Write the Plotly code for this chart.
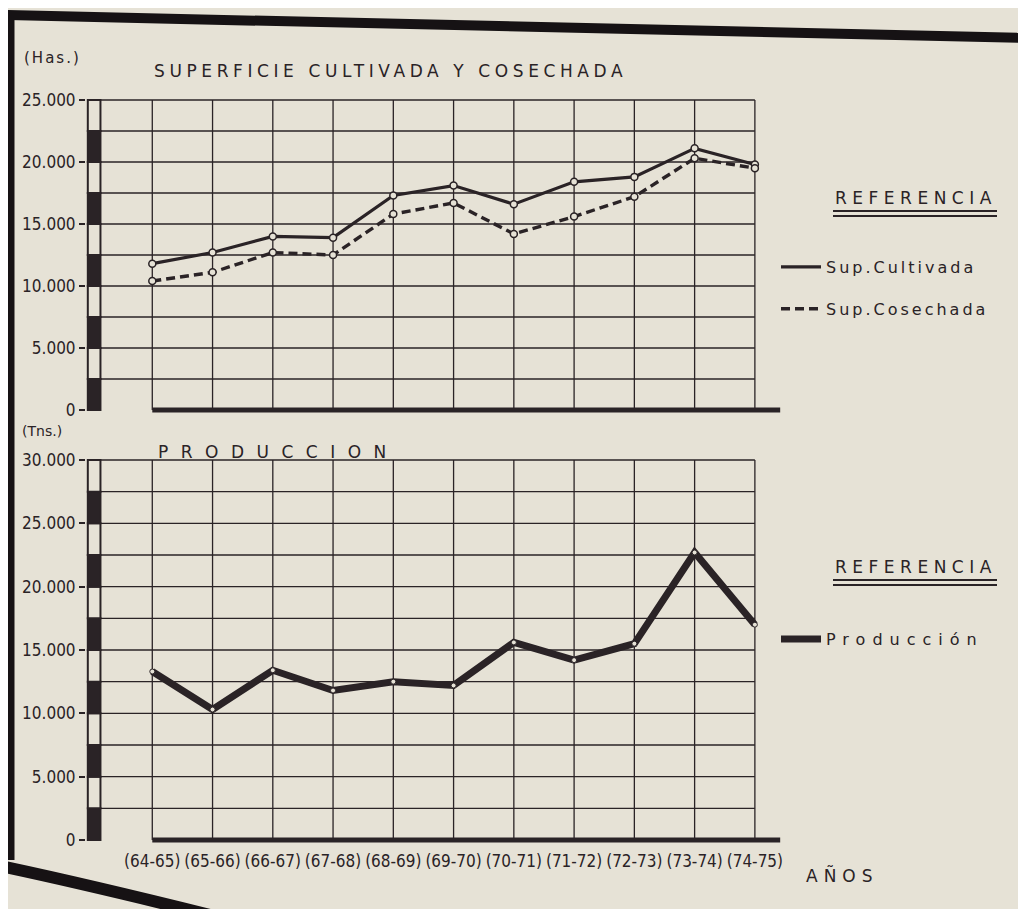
"""
Superficie cultivada / cosechada y produccion, campañas 64-65 a 74-75
"""

import plotly.graph_objects as go
from plotly.subplots import make_subplots

periodos = ['(64-65)', '(65-66)', '(66-67)', '(67-68)', '(68-69)', '(69-70)',
            '(70-71)', '(71-72)', '(72-73)', '(73-74)', '(74-75)']
sup_cultivada = [11800, 12700, 14000, 13900, 17300, 18100, 16600, 18400, 18800, 21100, 19800]
sup_cosechada = [10400, 11100, 12700, 12500, 15800, 16700, 14200, 15600, 17200, 20300, 19500]
produccion = [13300, 10300, 13400, 11800, 12500, 12200, 15600, 14200, 15500, 22700, 17000]

ticks_sup = [0, 5000, 10000, 15000, 20000, 25000]
ticks_prod = [0, 5000, 10000, 15000, 20000, 25000, 30000]
paso_grilla = 2500

INK = '#2a2326'
PAPER = '#e6e2d6'
OFF = 8  # default body margin of the html page
W, H = 1026 - 2 * OFF, 917 - 2 * OFF
L, PW = 86 - OFF, 696
NARROW = 'Liberation Sans Narrow, DejaVu Sans Condensed, Arial Narrow, sans-serif'
SANS = 'DejaVu Sans, Verdana, sans-serif'

x = list(range(len(periodos)))
x_rango = [-1.1, 10.45]
bar_x = [-1.07, -0.86]


def fx(p):
    return (p - OFF - L) / PW


def fy(p):
    return 1 - (p - OFF) / H


fig = make_subplots(rows=2, cols=1)

# top panel: superficie
fig.add_trace(go.Scatter(x=x, y=sup_cultivada, mode='lines', name='<span style="letter-spacing:3px">Sup.Cultivada</span>',
    line=dict(color=INK, width=3.2), legend='legend', legendgroup='a'), row=1, col=1)
fig.add_trace(go.Scatter(x=x, y=sup_cosechada, mode='lines', name='<span style="letter-spacing:3px">Sup.Cosechada</span>',
    line=dict(color=INK, width=3.4, dash='9px,5px'), legend='legend', legendgroup='b'), row=1, col=1)
for serie in (sup_cultivada, sup_cosechada):
    fig.add_trace(go.Scatter(x=x, y=serie, mode='markers', showlegend=False,
        marker=dict(symbol='circle', size=7, color=PAPER, line=dict(color=INK, width=1.5))), row=1, col=1)

# bottom panel: produccion
fig.add_trace(go.Scatter(x=x, y=produccion, mode='lines', name='<span style="letter-spacing:7px">Producción</span>',
    line=dict(color=INK, width=7), legend='legend2'), row=2, col=1)
fig.add_trace(go.Scatter(x=x, y=produccion, mode='markers', showlegend=False,
    marker=dict(symbol='circle', size=5, color=PAPER, line=dict(color=INK, width=1))), row=2, col=1)


def decorar(ticks, xref, yref):
    """grid, striped scale bar and thick baseline for one panel"""
    tope = ticks[-1]
    shapes = []
    for v in range(paso_grilla, tope + 1, paso_grilla):
        shapes.append(dict(type='line', xref=xref, yref=yref, x0=bar_x[1], x1=x[-1], y0=v, y1=v,
                           line=dict(color=INK, width=1.3), layer='below'))
    for xi in x:
        shapes.append(dict(type='line', xref=xref, yref=yref, x0=xi, x1=xi, y0=0, y1=tope,
                           line=dict(color=INK, width=1.3), layer='below'))
    for v in range(0, tope, paso_grilla):
        negro = (v // paso_grilla) % 2 == 0
        shapes.append(dict(type='rect', xref=xref, yref=yref, x0=bar_x[0], x1=bar_x[1], y0=v, y1=v + paso_grilla,
                           fillcolor=INK if negro else PAPER, line=dict(color=INK, width=2)))
    shapes.append(dict(type='line', xref=xref, yref=yref, x0=x[0], x1=x[-1] + 0.42, y0=0, y1=0,
                       line=dict(color=INK, width=5)))
    return shapes


shapes = decorar(ticks_sup, 'x', 'y') + decorar(ticks_prod, 'x2', 'y2')

# page frame seen in the photo
FRAME = '#161214'
shapes.append(dict(type='line', xref='paper', yref='paper', x0=fx(4), x1=fx(1030), y0=fy(15), y1=fy(38),
                   line=dict(color=FRAME, width=10)))
shapes.append(dict(type='line', xref='paper', yref='paper', x0=fx(10), x1=fx(10), y0=fy(12), y1=fy(860),
                   line=dict(color=FRAME, width=9)))
shapes.append(dict(type='path', xref='paper', yref='paper',
                   path=f'M {fx(0)},{fy(866)} Q {fx(90)},{fy(885)} {fx(230)},{fy(920)}',
                   line=dict(color=FRAME, width=12)))

# double underline under REFERENCIA
for y_ref in (211, 216, 580, 585):
    shapes.append(dict(type='line', xref='paper', yref='paper', x0=fx(833), x1=fx(997),
                       y0=fy(y_ref), y1=fy(y_ref), line=dict(color=INK, width=2.2)))


def px(xp, yp):
    return dict(x=fx(xp), y=fy(yp), xref='paper', yref='paper')


annotations = [
    dict(**px(22, 58), text='<span style="letter-spacing:2px">(Has.)</span>', showarrow=False,
         xanchor='left', yanchor='middle', font=dict(family=SANS, size=15, color=INK)),
    dict(**px(152, 71), text='<span style="letter-spacing:4.6px">SUPERFICIE CULTIVADA Y COSECHADA</span>',
         showarrow=False, xanchor='left', yanchor='middle', font=dict(family=SANS, size=17, color=INK)),
    dict(**px(20, 431), text='(Tns.)', showarrow=False,
         xanchor='left', yanchor='middle', font=dict(family=SANS, size=14, color=INK)),
    dict(**px(156, 452), text='<span style="letter-spacing:12.5px">PRODUCCION</span>',
         showarrow=False, xanchor='left', yanchor='middle', font=dict(family=SANS, size=17, color=INK)),
    dict(**px(833, 198), text='<span style="letter-spacing:5.5px">REFERENCIA</span>',
         showarrow=False, xanchor='left', yanchor='middle', font=dict(family=SANS, size=17, color=INK)),
    dict(**px(833, 567), text='<span style="letter-spacing:5.5px">REFERENCIA</span>',
         showarrow=False, xanchor='left', yanchor='middle', font=dict(family=SANS, size=17, color=INK)),
    dict(**px(804, 875), text='<span style="letter-spacing:6px">AÑOS</span>',
         showarrow=False, xanchor='left', yanchor='middle', font=dict(family=SANS, size=17, color=INK)),
]

# y domains from page-pixel positions of the top and zero gridlines
sup_top, sup_cero = 100, 410
prod_top, prod_cero = 460, 840
pad_sup = 700 * (sup_cero - sup_top) / ticks_sup[-1]
pad_prod = 700 * (prod_cero - prod_top) / ticks_prod[-1]
fig.update_yaxes(row=1, col=1, domain=[fy(sup_cero + pad_sup), fy(sup_top - 2)],
                 range=[-700, ticks_sup[-1] + 2 * ticks_sup[-1] / (sup_cero - sup_top)], tickvals=ticks_sup)
fig.update_yaxes(row=2, col=1, domain=[fy(prod_cero + pad_prod), fy(prod_top - 2)],
                 range=[-700, ticks_prod[-1] + 2 * ticks_prod[-1] / (prod_cero - prod_top)], tickvals=ticks_prod)
fig.update_yaxes(showgrid=False, zeroline=False, showline=False, ticks='outside', ticklen=6, tickwidth=2,
                 tickcolor=INK, tickformat=',d', automargin=False,
                 tickfont=dict(family=NARROW, size=17, color=INK))
fig.update_xaxes(range=x_rango, showgrid=False, zeroline=False, showline=False, automargin=False)
fig.update_xaxes(row=1, col=1, showticklabels=False)
fig.update_xaxes(row=2, col=1, tickvals=x, ticktext=periodos, ticks='', tickangle=0,
                 tickfont=dict(family=NARROW, size=17, color=INK))

fig.update_layout(
    width=W, height=H, margin=dict(l=L, r=W - L - PW, t=0, b=0),
    paper_bgcolor=PAPER, plot_bgcolor=PAPER, separators=',.',
    shapes=shapes, annotations=annotations,
    legend=dict(x=fx(776), y=fy(250), xanchor='left', yanchor='top', bgcolor='rgba(0,0,0,0)',
                tracegroupgap=18, traceorder='grouped', itemwidth=40,
                font=dict(family=SANS, size=16, color=INK)),
    legend2=dict(x=fx(776), y=fy(622), xanchor='left', yanchor='top', bgcolor='rgba(0,0,0,0)',
                 itemwidth=40, font=dict(family=SANS, size=16, color=INK)),
)

fig.write_html("out.html")
